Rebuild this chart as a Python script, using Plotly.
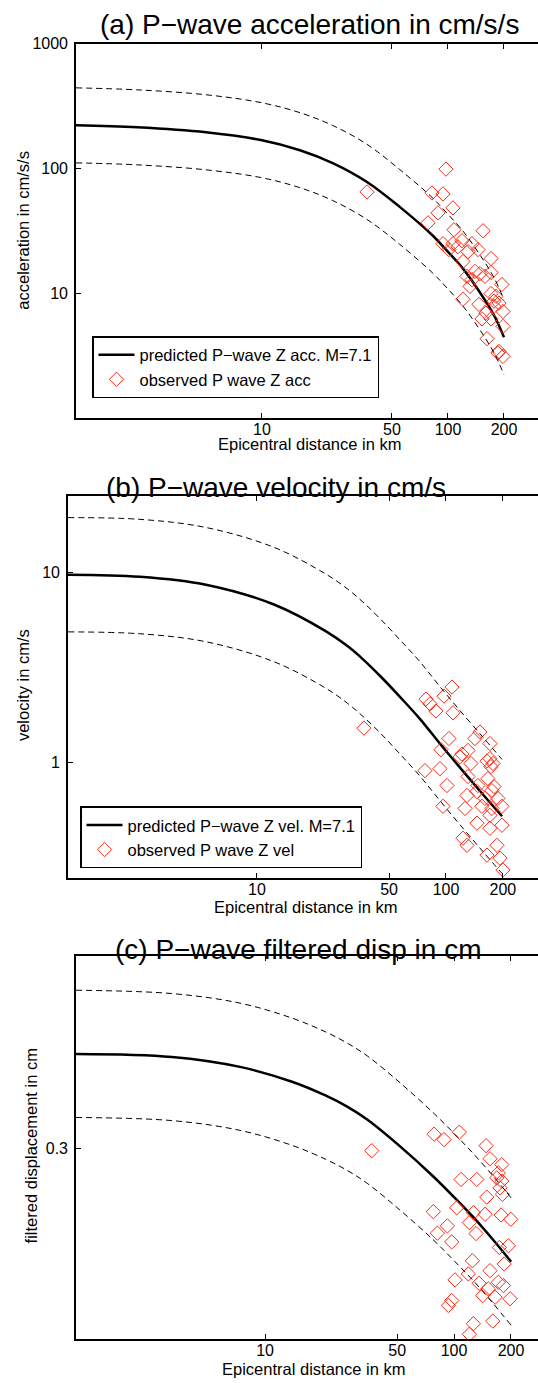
import plotly.graph_objects as go

W, H = 538, 1383
FONT = "Liberation Sans, Arial, Helvetica, sans-serif"
RED = "rgb(255,40,20)"

# ---------------- data: panel (a) acceleration ----------------
dist_curve_a = [1, 2.13, 5.0, 10, 16.0, 24.0, 36.7, 55.0, 83.0, 97.5, 120.4, 148.6, 176.7, 200]
acc_pred = [221.6, 213.6, 194.8, 168.2, 140.0, 110.3, 77.8, 49.1, 28.8, 22.3, 15.7, 10.1, 6.63, 4.42]
acc_upper = [443, 427, 390, 336, 280, 221, 156, 98, 57.6, 44.6, 31.4, 20.2, 13.3, 8.84]
acc_lower = [110.8, 106.8, 97.4, 84.1, 70.0, 55.2, 38.9, 24.6, 14.4, 11.2, 7.85, 5.05, 3.32, 2.21]
acc_obs_dist = [36.7, 97.5, 82.0, 94.0, 106.4, 88.4, 78.1, 107.7, 154.3, 118.9, 94.0, 101.2,
                106.4, 134.6, 145.0, 128.2, 170.4, 120.4, 148.6, 139.7, 170.4, 126.5, 134.6,
                195.0, 131.3, 120.4, 146.8, 170.4, 181.1, 176.7, 188.0, 197.6, 160.1, 152.4,
                170.4, 176.7, 197.6, 162.1, 185.6, 197.6, 188.0, 158.1, 113.2]
acc_obs = [64.7, 98.7, 63.5, 62.4, 48.2, 44.0, 36.6, 32.2, 31.6, 26.3, 24.9, 22.3,
           24.9, 24.9, 22.3, 21.5, 18.9, 17.9, 14.3, 14.9, 14.6, 13.6, 12.8,
           11.7, 11.3, 8.9, 8.1, 9.9, 9.4, 8.6, 8.3, 7.1, 6.9, 6.2,
           6.2, 7.8, 5.4, 4.3, 3.3, 3.1, 3.4, 13.6, 23.5]

# ---------------- data: panel (b) velocity ----------------
dist_curve_b = [1, 2.40, 5.37, 12.3, 23.2, 30.0, 36.4, 45.0, 57.1, 72.8, 93.0, 118.6, 157, 198]
vel_pred = [9.77, 9.53, 8.65, 6.80, 4.91, 4.12, 3.50, 2.85, 2.22, 1.70, 1.257, 0.942, 0.680, 0.522]
vel_upper = [19.5, 19.1, 17.3, 13.6, 9.82, 8.24, 7.0, 5.70, 4.43, 3.40, 2.51, 1.88, 1.36, 1.04]
vel_lower = [4.88, 4.77, 4.33, 3.40, 2.46, 2.06, 1.75, 1.43, 1.11, 0.85, 0.63, 0.471, 0.34, 0.261]
vel_obs_dist = [107.6, 97.6, 78.4, 82.3, 88.5, 108.9, 36.8, 103.7, 151.3, 142.3, 170.9, 94.1,
                121.5, 130.8, 135.5, 164.8, 170.9, 177.3, 173.0, 77.4, 93.0, 130.8, 166.8,
                101.2, 145.9, 175.1, 129.2, 188.4, 96.4, 126.1, 155.0, 175.1, 197.8, 170.9,
                145.9, 170.9, 197.8, 123.0, 129.2, 186.2, 164.8, 193.1, 200.3, 118.6, 160.8,
                147.6, 179.5]
vel_obs = [2.50, 2.24, 2.16, 2.04, 1.87, 1.83, 1.52, 1.34, 1.45, 1.34, 1.26, 1.17,
           1.11, 1.16, 0.99, 1.02, 1.05, 0.99, 0.953, 0.908, 0.93, 0.845, 0.824,
           0.758, 0.705, 0.713, 0.671, 0.648, 0.589, 0.574, 0.589, 0.574, 0.589, 0.528,
           0.480, 0.451, 0.468, 0.400, 0.367, 0.367, 0.326, 0.314, 0.272, 1.07, 0.648,
           0.758, 0.748]

# ---------------- data: panel (c) filtered displacement ----------------
dist_curve_c = [1, 3.22, 7.37, 13.9, 21.0, 27.2, 34.7, 51.8, 77.4, 101.2, 126.1, 160.8, 200.3]
disp_pred = [0.839, 0.812, 0.729, 0.620, 0.5325, 0.4727, 0.4108, 0.3066, 0.2215, 0.1745, 0.1421, 0.1108, 0.0873]
disp_upper = [1.68, 1.62, 1.46, 1.24, 1.065, 0.945, 0.822, 0.613, 0.443, 0.349, 0.284, 0.222, 0.175]
disp_lower = [0.42, 0.406, 0.365, 0.31, 0.266, 0.236, 0.205, 0.153, 0.111, 0.0873, 0.0711, 0.0554, 0.0437]
disp_obs_dist = [36.7, 78.4, 88.5, 106.6, 147.6, 155.0, 178.8, 171.5, 168.2, 178.8, 175.0, 180.1,
                 108.9, 131.9, 148.9, 77.7, 103.3, 126.5, 145.9, 177.3, 199.5, 120.5, 92.2,
                 81.6, 97.2, 130.7, 173.6, 193.8, 183.9, 125.0, 119.0, 101.2, 155.0, 135.6,
                 171.5, 182.4, 151.8, 141.8, 164.8, 197.8, 97.2, 93.3, 126.5, 160.2, 120.5]
disp_obs = [0.2925, 0.350, 0.330, 0.358, 0.309, 0.268, 0.2514, 0.2296, 0.2175, 0.210, 0.1952, 0.1817,
            0.2138, 0.2138, 0.1764, 0.1505, 0.1571, 0.1489, 0.1463, 0.1452, 0.1386, 0.1336, 0.1289,
            0.1191, 0.1083, 0.1186, 0.1019, 0.1038, 0.0851, 0.0882, 0.0764, 0.0716, 0.0792, 0.0690,
            0.0698, 0.0673, 0.0649, 0.0604, 0.0593, 0.0583, 0.0572, 0.0542, 0.0444, 0.0457, 0.0396]

x_tickvals = [10, 50, 100, 200]
x_ticktext = ["10", "50", "100", "200"]


def px(xp):
    return xp / W


def py(yp):
    return 1 - yp / H


fig = go.Figure()

panels = [
    dict(ax="x", ay="y", leg="legend", d=dist_curve_a, pred=acc_pred, up=acc_upper, lo=acc_lower,
         od=acc_obs_dist, ov=acc_obs, lp="predicted P\u2212wave Z acc. M=7.1", lo_name="observed P wave Z acc"),
    dict(ax="x2", ay="y2", leg="legend2", d=dist_curve_b, pred=vel_pred, up=vel_upper, lo=vel_lower,
         od=vel_obs_dist, ov=vel_obs, lp="predicted P\u2212wave Z vel. M=7.1", lo_name="observed P wave Z vel"),
    dict(ax="x3", ay="y3", leg=None, d=dist_curve_c, pred=disp_pred, up=disp_upper, lo=disp_lower,
         od=disp_obs_dist, ov=disp_obs, lp="predicted", lo_name="observed"),
]

for p in panels:
    showleg = p["leg"] is not None
    legkw = dict(legend=p["leg"]) if showleg else {}
    fig.add_trace(go.Scatter(x=p["d"], y=p["pred"], mode="lines", xaxis=p["ax"], yaxis=p["ay"],
                             line=dict(color="black", width=2.5, shape="spline", smoothing=1.0),
                             name=p["lp"], showlegend=showleg, **legkw))
    fig.add_trace(go.Scatter(x=p["od"], y=p["ov"], mode="markers", xaxis=p["ax"], yaxis=p["ay"],
                             marker=dict(symbol="diamond-open", size=11, color=RED, line=dict(width=1, color=RED)),
                             name=p["lo_name"], showlegend=showleg, **legkw))
    for arr in (p["up"], p["lo"]):
        fig.add_trace(go.Scatter(x=p["d"], y=arr, mode="lines", xaxis=p["ax"], yaxis=p["ay"],
                                 line=dict(color="black", width=1, dash="6px,4px", shape="spline", smoothing=1.0),
                                 showlegend=False, hoverinfo="skip"))

common_x = dict(type="log", tickvals=x_tickvals, ticktext=x_ticktext, ticks="inside", ticklen=5,
                tickwidth=1, tickcolor="black", showline=True, linecolor="black", linewidth=1.6,
                mirror="ticks", showgrid=False, zeroline=False, ticklabelstandoff=-4,
                tickfont=dict(family=FONT, size=16, color="black"))
common_y = dict(type="log", ticks="inside", ticklen=5, tickwidth=1, tickcolor="black",
                showline=True, linecolor="black", linewidth=1.6, mirror=False,
                showgrid=False, zeroline=False, ticklabelstandoff=3,
                tickfont=dict(family=FONT, size=16, color="black"))
right_y = dict(type="log", side="right", ticks="inside", ticklen=5, tickwidth=1, tickcolor="black",
               showline=False, showgrid=False, zeroline=False, showticklabels=False)

# pixel geometry of the three axes boxes
box_a = dict(l=76, t=36, b=412)
box_b = dict(l=68, t=491, b=875)
box_c = dict(l=76, t=954, b=1339)

leg_common = dict(xanchor="left", yanchor="top", bgcolor="white", bordercolor="black", borderwidth=1.5,
                  font=dict(family=FONT, size=16.5, color="black"), tracegroupgap=0,
                  itemwidth=36)

ya_range, yb_range, yc_range = [0, 3], [-0.607, 1.403], [-1.426, 0.385]

fig.update_layout(
    width=W, height=H, autosize=False,
    margin=dict(l=0, r=0, t=0, b=0, pad=0),
    paper_bgcolor="white", plot_bgcolor="white",
    font=dict(family=FONT, color="black"),
    xaxis=dict(common_x, domain=[px(box_a["l"]), 1], range=[0, 2.484], anchor="y"),
    yaxis=dict(common_y, domain=[py(box_a["b"]), py(box_a["t"])], range=ya_range,
               tickvals=[10, 100, 1000], ticktext=["10", "100", "1000"], anchor="x"),
    xaxis2=dict(common_x, domain=[px(box_b["l"]), 1], range=[0, 2.487], anchor="y2"),
    yaxis2=dict(common_y, domain=[py(box_b["b"]), py(box_b["t"])], range=yb_range,
                tickvals=[1, 10], ticktext=["1", "10"], anchor="x2"),
    xaxis3=dict(common_x, domain=[px(box_c["l"]), 1], range=[0, 2.444], anchor="y3"),
    yaxis3=dict(common_y, domain=[py(box_c["b"]), py(box_c["t"])], range=yc_range,
                tickvals=[0.3], ticktext=["0.3"], anchor="x3"),
    yaxis4=dict(right_y, overlaying="y", anchor="x", range=ya_range, tickvals=[10, 100, 1000]),
    yaxis5=dict(right_y, overlaying="y2", anchor="x2", range=yb_range, tickvals=[1, 10]),
    yaxis6=dict(right_y, overlaying="y3", anchor="x3", range=yc_range, tickvals=[0.3]),
    legend=dict(leg_common, x=px(92), y=py(330)),
    legend2=dict(leg_common, x=px(80), y=py(803)),
)

annots = [
    # titles
    dict(text="(a) P\u2212wave acceleration in cm/s/s", x=px(309), y=py(17), size=28),
    dict(text="(b) P\u2212wave velocity in cm/s", x=px(276), y=py(482), size=28),
    dict(text="(c) P\u2212wave filtered disp in cm", x=px(298), y=py(947), size=28),
    # x titles
    dict(text="Epicentral distance in km", x=px(309), y=py(439), size=16.5),
    dict(text="Epicentral distance in km", x=px(305), y=py(904), size=16.5),
    dict(text="Epicentral distance in km", x=px(313), y=py(1369), size=16.5),
]
for a in annots:
    fig.add_annotation(text=a["text"], x=a["x"], y=a["y"], xref="paper", yref="paper",
                       xanchor="center", yanchor="middle", showarrow=False,
                       font=dict(family=FONT, size=a["size"], color="black"))

ytitles = [
    ("acceleration in cm/s/s", 23, 224),
    ("velocity in cm/s", 23, 681),
    ("filtered displacement in cm", 31, 1145),
]
for t, xx, yy in ytitles:
    fig.add_annotation(text=t, x=px(xx), y=py(yy), xref="paper", yref="paper", textangle=-90,
                       xanchor="center", yanchor="middle", showarrow=False,
                       font=dict(family=FONT, size=16.5, color="black"))

fig.write_html("out.html")
